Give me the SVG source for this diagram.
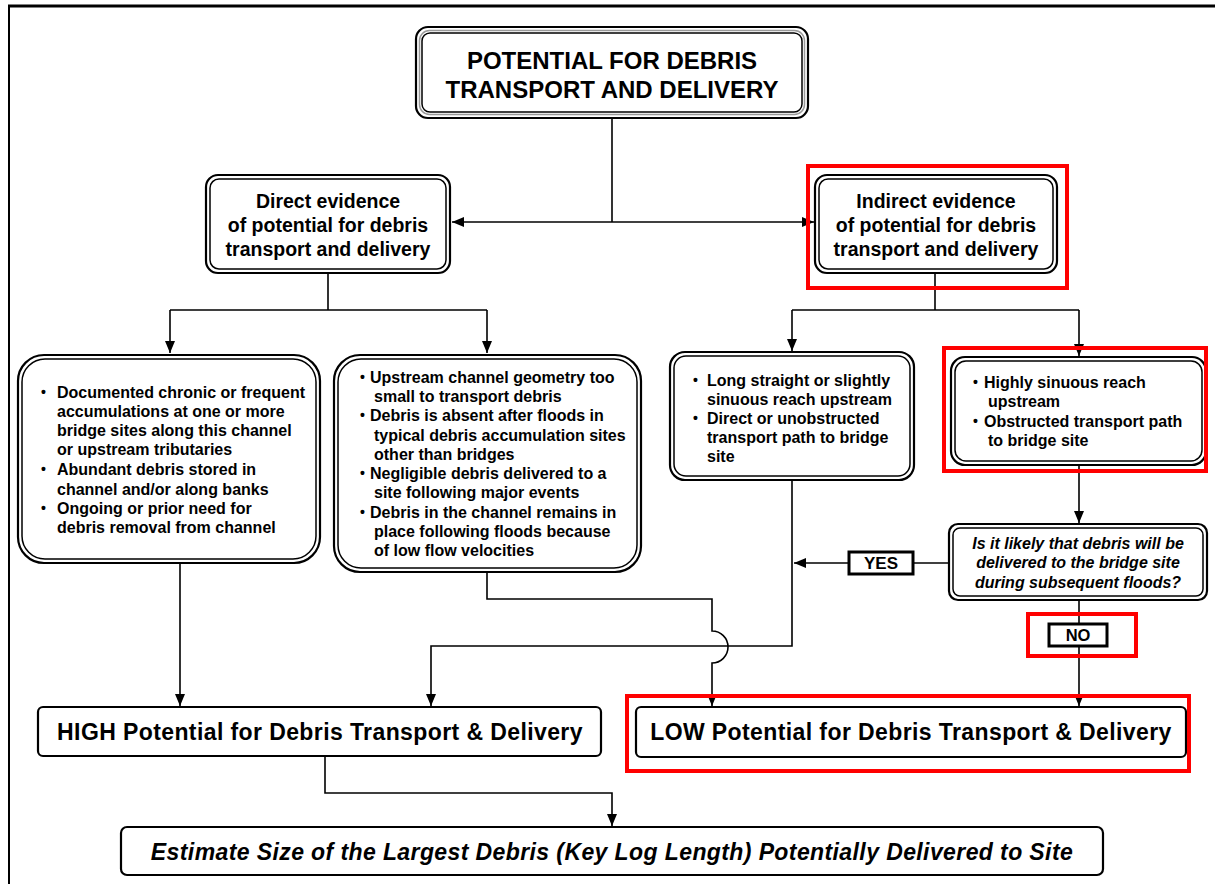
<svg xmlns="http://www.w3.org/2000/svg" width="1215" height="884" viewBox="0 0 1215 884">
<style>
text{font-family:"Liberation Sans",Arial,sans-serif;font-weight:bold;fill:#000}
.o{fill:#fff;stroke:#000;stroke-width:2.2}
.i{fill:none;stroke:#000;stroke-width:1.5}
.g{fill:none;stroke:#999;stroke-width:1.5}
.c{fill:none;stroke:#000;stroke-width:1.6}
.red{fill:none;stroke:#ff0000;stroke-width:4}
.lbl{fill:#fff;stroke:#000;stroke-width:3}
.t17{font-size:19.5px}
.t14{font-size:16px}
.b{font-size:14px}
.it{font-style:italic}
.big{font-size:23px;letter-spacing:0.4px}
</style>
<defs>
<marker id="ah" markerUnits="userSpaceOnUse" markerWidth="12" markerHeight="12" refX="12" refY="5" orient="auto">
<path d="M0,0 L12,5 L0,10 z" fill="#000"/>
</marker>
</defs>
<rect width="1215" height="884" fill="#fff"/>
<g id="frame">
<line x1="8" y1="6" x2="1215" y2="6" stroke="#000" stroke-width="3"/>
<line x1="9" y1="5" x2="9" y2="884" stroke="#000" stroke-width="2"/>
</g>
<g id="connectors">
<path class="c" d="M612,118 V222"/>
<path class="c" d="M612,222 H452" marker-end="url(#ah)"/>
<path class="c" d="M612,222 H814" marker-end="url(#ah)"/>
<path class="c" d="M328,273 V310 M170,310 H487"/>
<path class="c" d="M170,310 V353" marker-end="url(#ah)"/>
<path class="c" d="M487,310 V353" marker-end="url(#ah)"/>
<path class="c" d="M935,273 V310 M792,310 H1079"/>
<path class="c" d="M792,310 V351" marker-end="url(#ah)"/>
<path class="c" d="M1079,310 V356" marker-end="url(#ah)"/>
<path class="c" d="M180,563 V706" marker-end="url(#ah)"/>
<path class="c" d="M487,572 V599 H712 V631 A16,16 0 0 1 712,663 V706" marker-end="url(#ah)"/>
<path class="c" d="M792,480 V646 H431 V706" marker-end="url(#ah)"/>
<path class="c" d="M949,563 H794" marker-end="url(#ah)"/>
<path class="c" d="M1079,465 V523" marker-end="url(#ah)"/>
<path class="c" d="M1079,600 V706" marker-end="url(#ah)"/>
<path class="c" d="M325,756 V793 H612 V826" marker-end="url(#ah)"/>
</g>
<g id="title">
<rect class="o" x="416" y="27" width="392" height="91" rx="12" stroke-width="3"/>
<rect class="g" x="419.5" y="30.5" width="385" height="84" rx="10" stroke-width="2"/>
<rect class="i" x="422" y="33" width="380" height="79" rx="8" stroke-width="2"/>
<text x="612" y="69" font-size="24" text-anchor="middle">POTENTIAL FOR DEBRIS</text>
<text x="612" y="98" font-size="24" text-anchor="middle">TRANSPORT AND DELIVERY</text>
</g>
<g id="direct">
<rect class="o" x="206" y="175" width="244" height="98" rx="12"/>
<rect class="i" x="210" y="179" width="236" height="90" rx="9"/>
<text class="t17" x="328" y="208" text-anchor="middle">Direct evidence</text>
<text class="t17" x="328" y="232" text-anchor="middle">of potential for debris</text>
<text class="t17" x="328" y="256" text-anchor="middle">transport and delivery</text>
</g>
<g id="indirect">
<rect class="o" x="815" y="175" width="242" height="98" rx="12"/>
<rect class="i" x="819" y="179" width="234" height="90" rx="9"/>
<text class="t17" x="936" y="208" text-anchor="middle">Indirect evidence</text>
<text class="t17" x="936" y="232" text-anchor="middle">of potential for debris</text>
<text class="t17" x="936" y="256" text-anchor="middle">transport and delivery</text>
<rect class="red" x="808" y="166" width="259" height="122"/>
</g>
<g id="boxA">
<rect class="o" x="18" y="355" width="302" height="208" rx="26"/>
<rect class="i" x="22" y="359" width="294" height="200" rx="23"/>
<text class="b" x="41" y="397">•</text>
<text class="t14" x="57" y="398">Documented chronic or frequent</text>
<text class="t14" x="57" y="417">accumulations at one or more</text>
<text class="t14" x="57" y="436">bridge sites along this channel</text>
<text class="t14" x="57" y="455">or upstream tributaries</text>
<text class="b" x="41" y="474">•</text>
<text class="t14" x="57" y="475">Abundant debris stored in</text>
<text class="t14" x="57" y="495">channel and/or along banks</text>
<text class="b" x="41" y="513">•</text>
<text class="t14" x="57" y="514">Ongoing or prior need for</text>
<text class="t14" x="57" y="533">debris removal from channel</text>
</g>
<g id="boxB">
<rect class="o" x="334" y="355" width="307" height="217" rx="26"/>
<rect class="i" x="338" y="359" width="299" height="209" rx="23"/>
<text class="b" x="360" y="382">•</text>
<text class="t14" x="370" y="383">Upstream channel geometry too</text>
<text class="t14" x="374" y="402">small to transport debris</text>
<text class="b" x="360" y="420">•</text>
<text class="t14" x="370" y="421">Debris is absent after floods in</text>
<text class="t14" x="374" y="441">typical debris accumulation sites</text>
<text class="t14" x="374" y="460">other than bridges</text>
<text class="b" x="360" y="478">•</text>
<text class="t14" x="370" y="479">Negligible debris delivered to a</text>
<text class="t14" x="374" y="498">site following major events</text>
<text class="b" x="360" y="517">•</text>
<text class="t14" x="370" y="518">Debris in the channel remains in</text>
<text class="t14" x="374" y="537">place following floods because</text>
<text class="t14" x="374" y="556">of low flow velocities</text>
</g>
<g id="boxC">
<rect class="o" x="670" y="352" width="244" height="128" rx="15"/>
<rect class="i" x="674" y="356" width="236" height="120" rx="12"/>
<text class="b" x="693" y="385">•</text>
<text class="t14" x="707" y="386">Long straight or slightly</text>
<text class="t14" x="707" y="405">sinuous reach upstream</text>
<text class="b" x="693" y="423">•</text>
<text class="t14" x="707" y="424">Direct or unobstructed</text>
<text class="t14" x="707" y="443">transport path to bridge</text>
<text class="t14" x="707" y="462">site</text>
</g>
<g id="boxD">
<rect class="o" x="951" y="357" width="255" height="108" rx="14"/>
<rect class="i" x="955" y="361" width="247" height="100" rx="11"/>
<text class="b" x="973" y="387">•</text>
<text class="t14" x="984" y="388">Highly sinuous reach</text>
<text class="t14" x="988" y="407">upstream</text>
<text class="b" x="973" y="426">•</text>
<text class="t14" x="984" y="427">Obstructed transport path</text>
<text class="t14" x="988" y="446">to bridge site</text>
<rect class="red" x="944" y="348" width="262" height="123"/>
</g>
<g id="decision">
<rect class="o" x="949" y="524" width="258" height="76" rx="9"/>
<rect class="i" x="953" y="528" width="250" height="68" rx="7"/>
<text class="t14 it" x="1078" y="549" text-anchor="middle">Is it likely that debris will be</text>
<text class="t14 it" x="1078" y="568" text-anchor="middle">delivered to the bridge site</text>
<text class="t14 it" x="1078" y="588" text-anchor="middle">during subsequent floods?</text>
</g>
<g id="yes">
<rect class="lbl" x="849" y="552" width="64" height="22"/>
<text x="881" y="569" font-size="17" text-anchor="middle">YES</text>
</g>
<g id="no">
<rect class="lbl" x="1049" y="624" width="58" height="22"/>
<text x="1078" y="641" font-size="16.5" text-anchor="middle">NO</text>
<rect class="red" x="1028" y="614" width="108" height="42"/>
</g>
<g id="high">
<rect class="o" x="38" y="707" width="563" height="49" rx="5" stroke-width="3"/>
<text class="big" x="320" y="740" text-anchor="middle">HIGH Potential for Debris Transport &amp; Delivery</text>
</g>
<g id="low">
<rect class="o" x="636" y="707" width="550" height="50" rx="5" stroke-width="3"/>
<text class="big" x="911" y="740" text-anchor="middle">LOW Potential for Debris Transport &amp; Delivery</text>
<rect class="red" x="627" y="696" width="562" height="75"/>
</g>
<g id="estimate">
<rect class="o" x="121" y="827" width="982" height="48" rx="6" stroke-width="1.6"/>
<text class="it big" x="612" y="860" text-anchor="middle">Estimate Size of the Largest Debris (Key Log Length) Potentially Delivered to Site</text>
</g>
</svg>
